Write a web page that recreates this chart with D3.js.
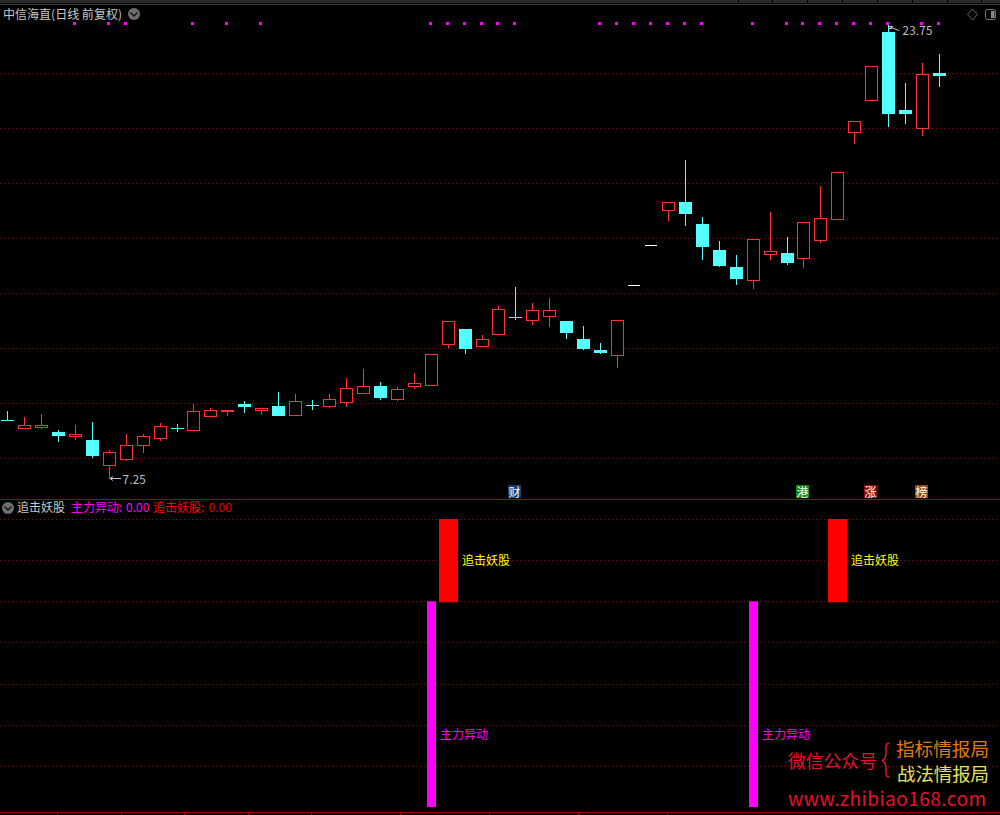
<!DOCTYPE html>
<html><head><meta charset="utf-8">
<script src="https://cdn.jsdelivr.net/npm/d3@7/dist/d3.min.js"></script>
<style>html,body{margin:0;padding:0;background:#000;overflow:hidden}svg{display:block}text{font-family:"Noto Sans CJK SC","Liberation Sans",sans-serif}</style>
</head><body><svg id="c" width="1000" height="815"></svg>
<script>
const open=[9.37,9.07,9.10,8.95,8.77,8.65,7.72,7.94,8.45,8.70,9.08,8.99,9.50,9.68,9.96,9.72,9.89,9.54,9.93,9.87,10.01,10.34,10.62,10.12,10.59,10.63,12.12,12.69,12.05,12.48,13.12,12.99,13.14,12.98,12.33,11.93,11.72,14.28,15.73,16.99,17.31,16.51,15.56,14.95,14.45,15.39,15.45,15.25,15.90,16.67,19.83,20.99,23.49,20.65,19.98,22.00];
const close=[9.37,9.19,9.19,8.80,8.86,8.07,8.21,8.46,8.79,9.15,9.08,9.70,9.73,9.73,9.85,9.81,9.53,10.06,9.93,10.13,10.53,10.61,10.18,10.50,10.72,11.77,12.97,11.96,12.32,13.41,13.12,13.37,13.37,12.55,11.96,11.82,13.01,14.28,15.73,17.30,16.87,15.67,14.98,14.51,15.95,15.52,15.09,16.57,16.72,18.39,20.24,22.24,20.51,20.51,21.95,21.89];
const high=[9.71,9.49,9.60,9.02,9.20,9.31,8.29,8.87,8.87,9.27,9.24,9.96,9.82,9.73,10.07,9.81,10.40,10.33,10.11,10.33,10.91,11.24,10.76,10.58,11.09,11.77,12.97,12.69,12.47,13.53,14.22,13.64,13.82,12.98,12.80,12.18,13.01,14.28,15.73,17.30,18.84,16.76,15.89,15.38,15.95,16.95,16.04,16.57,17.89,18.39,20.24,22.24,23.75,21.64,22.36,22.69];
const low=[9.37,9.07,9.05,8.58,8.65,8.00,7.25,7.89,8.18,8.62,8.95,8.99,9.50,9.54,9.64,9.57,9.53,9.54,9.75,9.83,9.85,10.34,10.11,10.08,10.51,10.63,12.00,11.78,12.05,12.48,13.02,12.84,12.76,12.33,11.93,11.78,11.27,14.28,15.73,16.62,16.44,15.20,14.95,14.29,14.15,15.20,15.02,14.91,15.82,16.67,19.42,20.99,20.04,20.15,19.71,21.49];
const signalDots=[4,6,7,11,13,15,25,26,27,28,29,30,35,36,37,38,39,40,41,44,46,47,48,49,50,51,52,54,55];
const priceGrid=[8,10,12,14,16,18,20,22];
const subGrid=[1,2,3,4,5,6,7];
const periodTicks=[2.92,6.69,10.41,14.19,17.9,23.16,28.4,33.66,38.92];
const zhuli=[{i:25,v:5},{i:44,v:5}];
const zhuiji=[{i:26,v0:5,v1:7},{i:49,v0:5,v1:7}];
const flags=[{i:30,t:"财",bg:"#0d3f75"},{i:47,t:"港",bg:"#0a8a14"},{i:51,t:"涨",bg:"#8a0a0a"},{i:54,t:"榜",bg:"#8a4a10"}];
const topStripSeps=[738,772,807,842,877,912,947,981];

const RED="#ff3232",CYAN="#54ffff",GRID="#701010",NUM="'Liberation Sans'";
const svg=d3.select("#c");
const idx=d3.range(open.length);
const xp=d3.scalePoint().domain(idx).range([7.55,939.55]);
const xLin=d3.scaleLinear().domain([0,55]).range([7.55,939.55]);
const x=i=>Math.floor(xp(i));
const y=d3.scaleLinear().domain([8,22]).range([458,73]);
const yS=d3.scaleLinear().domain([0,7]).range([807,519]);
const px=v=>Math.round(v)+.5;

svg.append("rect").attr("width",1000).attr("height",815).attr("fill","#000");
svg.append("rect").attr("width",1000).attr("height",3).attr("fill","#2a2a2a");
svg.append("g").selectAll("line").data(topStripSeps).join("line").attr("x1",d=>d+.5).attr("x2",d=>d+.5).attr("y1",0).attr("y2",3).attr("stroke","#000");
svg.append("line").attr("x1",0).attr("x2",1000).attr("y1",4.5).attr("y2",4.5).attr("stroke","#3c3c3c");

const dash="1 3";
svg.append("g").selectAll("line").data(priceGrid).join("line")
 .attr("x1",0).attr("x2",1000).attr("y1",d=>px(y(d))).attr("y2",d=>px(y(d)))
 .attr("stroke",GRID).attr("stroke-dasharray",dash);
svg.append("g").selectAll("line").data(subGrid).join("line")
 .attr("x1",0).attr("x2",1000).attr("y1",d=>px(yS(d))).attr("y2",d=>px(yS(d)))
 .attr("stroke",GRID).attr("stroke-dasharray",dash);

svg.append("g").selectAll("rect").data(signalDots).join("rect")
 .attr("x",d=>x(d)-2).attr("y",22).attr("width",3).attr("height",3).attr("fill","#ff00ff");

const g=svg.append("g").selectAll("g").data(idx).join("g");
const colorOf=i=>open[i]===close[i]?(high[i]===low[i]?"#fff":CYAN):(close[i]>open[i]?RED:CYAN);
g.append("line").attr("x1",i=>x(i)+.5).attr("x2",i=>x(i)+.5)
 .attr("y1",i=>Math.round(y(high[i]))).attr("y2",i=>Math.round(y(low[i])))
 .attr("stroke",colorOf).attr("display",i=>high[i]===low[i]?"none":null);
g.each(function(i){
 const s=d3.select(this),c=colorOf(i),cx=x(i);
 const t=Math.round(y(Math.max(open[i],close[i]))),b=Math.round(y(Math.min(open[i],close[i])));
 if(open[i]===close[i]){
  const w=high[i]===low[i]?12:13;
  s.append("rect").attr("x",cx-6).attr("y",t).attr("width",w).attr("height",1).attr("fill",c);
 }else if(close[i]>open[i]){
  s.append("rect").attr("x",cx-5.5).attr("y",t+.5).attr("width",12).attr("height",Math.max(b-t-1,1)).attr("fill","#000").attr("stroke",c);
 }else{
  s.append("rect").attr("x",cx-6).attr("y",t).attr("width",13).attr("height",b-t).attr("fill",c);
 }
});

const T=(xx,yy,t,fill,size,anchor)=>svg.append("text").attr("x",xx).attr("y",yy).text(t).attr("fill",fill).attr("font-size",size).attr("text-anchor",anchor||"start");
T(3,19,"中信海直(日线 前复权)","#c8c8c8",12).attr("textLength",119).attr("lengthAdjust","spacingAndGlyphs");
const chev=(cx,cy)=>{svg.append("circle").attr("cx",cx).attr("cy",cy).attr("r",6).attr("fill","#6e6e6e");
 svg.append("path").attr("d",`M${cx-3.5} ${cy-1.5}L${cx} ${cy+2}L${cx+3.5} ${cy-1.5}`).attr("fill","none").attr("stroke","#111").attr("stroke-width",1.4);};
chev(134,14);chev(8,508);
svg.append("path").attr("d","M972.5 9L977.5 14.5L972.5 20L967.5 14.5Z").attr("fill","none").attr("stroke","#666");
svg.append("rect").attr("x",985.5).attr("y",9.5).attr("width",10).attr("height",10).attr("rx",2).attr("fill","none").attr("stroke","#777");
svg.append("rect").attr("x",991).attr("y",11).attr("width",3.5).attr("height",7).attr("fill","#888");

const lowY=Math.round(y(7.25))-.5;
svg.append("path").attr("d",`M${x(6)+1} ${lowY}H121M${x(6)+1} ${lowY}l3 -2M${x(6)+1} ${lowY}l3 2`).attr("fill","none").attr("stroke","#c0c0c0");
T(122.5,484,"7.25","#c0c0c0",11.5).attr("font-family",NUM).attr("letter-spacing",.3);
const hx=x(52)+1,hy=Math.round(y(23.75))+1.5;
svg.append("path").attr("d",`M${hx} ${hy}l10 4M${hx} ${hy}h4M${hx} ${hy+2}h3`).attr("fill","none").attr("stroke","#c0c0c0");
T(902.5,35,"23.75","#c0c0c0",11.5).attr("font-family",NUM).attr("letter-spacing",.3);

svg.append("line").attr("x1",0).attr("x2",1000).attr("y1",499.5).attr("y2",499.5).attr("stroke","#a80000");
svg.append("line").attr("x1",0).attr("x2",1000).attr("y1",812.5).attr("y2",812.5).attr("stroke","#a80000");
svg.append("g").selectAll("line").data(periodTicks).join("line")
 .attr("x1",d=>Math.round(xLin(d))+.5).attr("x2",d=>Math.round(xLin(d))+.5).attr("y1",813).attr("y2",815).attr("stroke","#a80000");

const fg=svg.append("g").selectAll("g").data(flags).join("g");
fg.append("rect").attr("x",d=>x(d.i)-7).attr("y",485).attr("width",13).attr("height",13).attr("fill",d=>d.bg);
fg.append("text").attr("x",d=>x(d.i)-.5).attr("y",496.5).attr("text-anchor","middle").attr("font-size",12).attr("fill","#fff").text(d=>d.t);

T(17,512,"追击妖股","#c8c8c8",12);
T(71,512,"主力异动:","#ff00ff",12);
T(126,512,"0.00","#ff00ff",12).attr("font-family",NUM);
T(153,512,"追击妖股:","#ff0000",12);
T(208.5,512,"0.00","#e00000",12).attr("font-family",NUM);
svg.append("g").selectAll("rect").data(zhuli).join("rect")
 .attr("x",d=>x(d.i)-4).attr("width",9).attr("y",d=>yS(d.v)).attr("height",d=>yS(0)-yS(d.v)).attr("fill","#ff00ff");
svg.append("g").selectAll("rect").data(zhuiji).join("rect")
 .attr("x",d=>x(d.i)-9).attr("width",19).attr("y",d=>yS(d.v1)).attr("height",d=>yS(d.v0)-yS(d.v1)+1).attr("fill","#ff0000");
zhuli.forEach(d=>T(x(d.i)+9,739,"主力异动","#ff00ff",12));
zhuiji.forEach(d=>T(x(d.i)+14,565,"追击妖股","#ffff00",12));

T(788,768,"微信公众号","#e8102a",17.8);
T(896,756,"指标情报局","#e07a10",18.6);
T(897,781,"战法情报局","#e6e060",18.4);
svg.append("path").attr("d","M889.5 743C885 743 886 748 886 752C886 757 885 759 882.5 760.5C885 762 886 765 886 769C886 773 885 777 889.5 777").attr("fill","none").attr("stroke","#e8102a").attr("stroke-width",1.5);
T(788,806,"www.zhibiao168.com","#e8102a",19).attr("font-family","'DejaVu Sans'").attr("letter-spacing",.47);
</script></body></html>
